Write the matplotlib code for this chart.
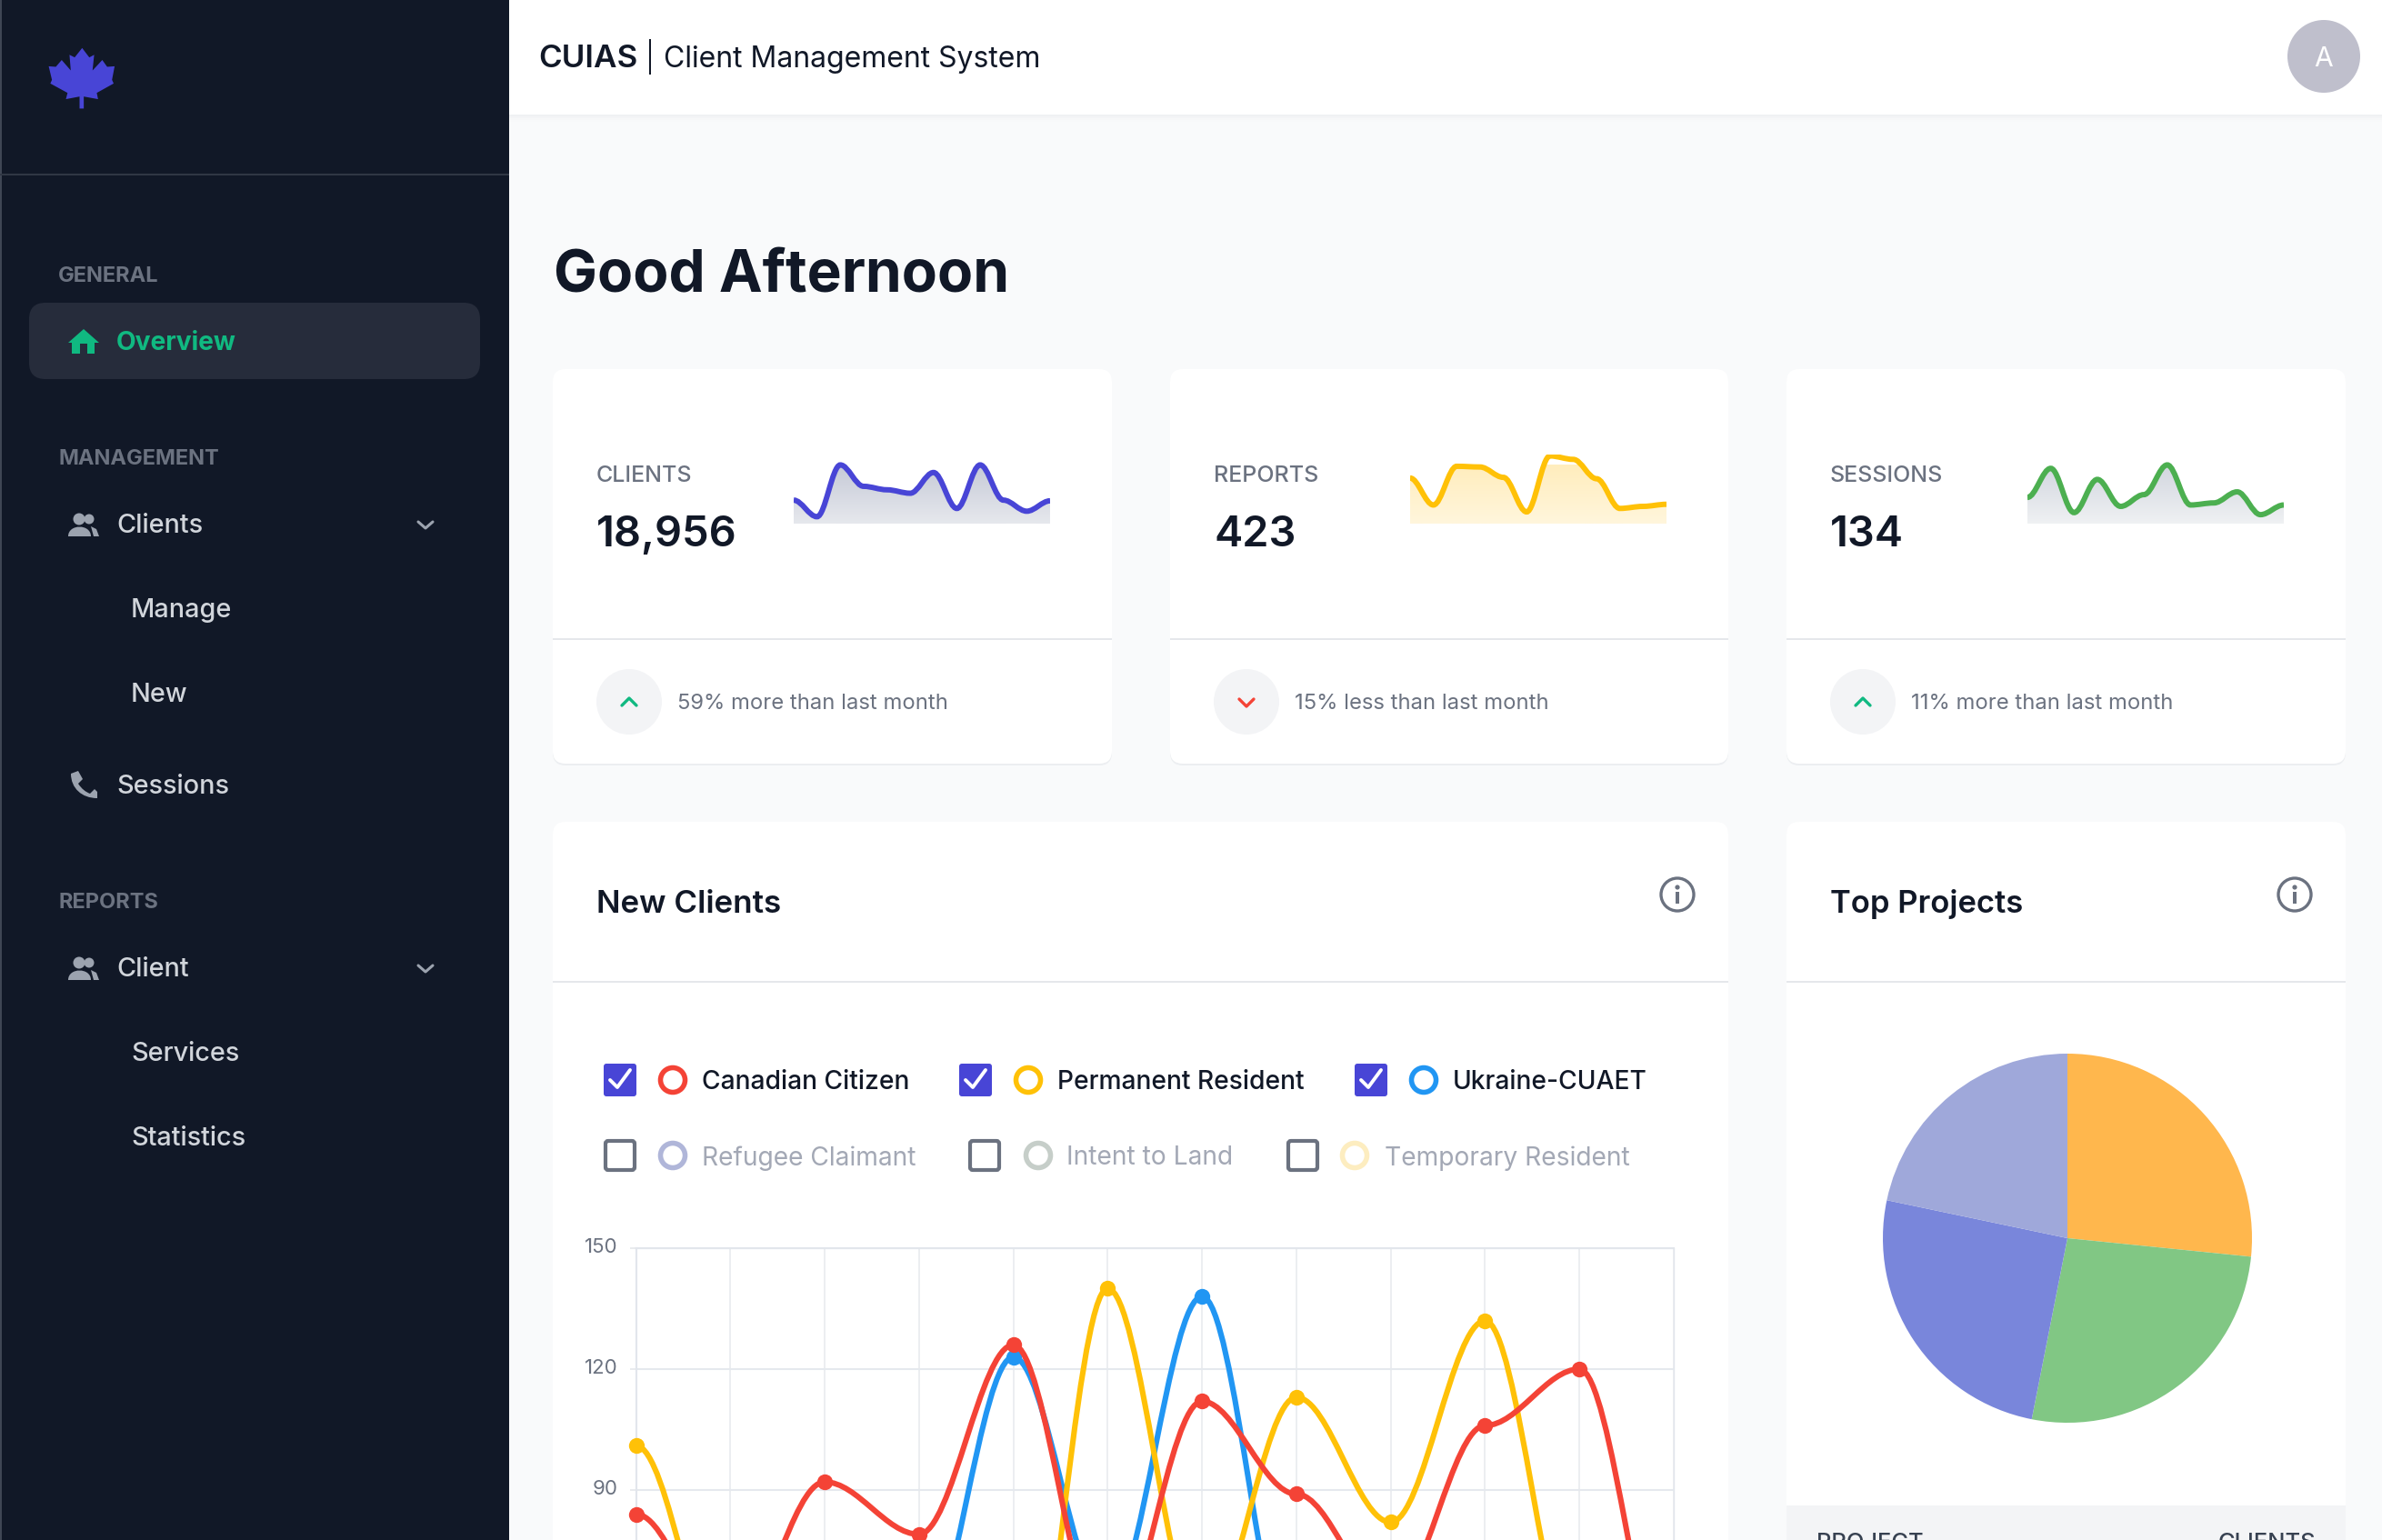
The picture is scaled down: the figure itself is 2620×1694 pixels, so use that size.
import numpy as np
import matplotlib
matplotlib.use('Agg')
import matplotlib.pyplot as plt
from matplotlib.patches import FancyBboxPatch, Rectangle, Circle, Polygon, PathPatch
from matplotlib.path import Path
from matplotlib.transforms import ScaledTranslation

W, H = 2620, 1694
plt.rcParams['font.family'] = ['Inter', 'DejaVu Sans']

# line chart values, months 0-11 (the low ones run off the bottom of the screenshot)
months = list(range(12))
canadian = [84, 54, 92, 79, 126, 52, 112, 89, 63, 106, 120, 40]
permanent = [101, 44, 40, 35, 15, 140, 56, 113, 82, 132, 48, 40]
ukraine = [30, 30, 30, 51, 123, 62, 138, 45, 40, 35, 30, 30]
line_ticks = [90, 120, 150]

# sparklines
spark_clients = [34, 10, 85, 54, 49, 44, 74, 22, 85, 34, 18, 33]
spark_reports = [66, 27, 83, 82, 67, 17, 98, 93, 65, 22, 25, 28]
spark_sessions = [38, 80, 16, 64, 25, 42, 85, 27, 30, 46, 13, 27]

# pie
pie_values = [26.6, 26.5, 25.2, 21.7]
pie_colors = ['#ffb74d', '#81c784', '#7986db', '#9fa8da']

INK = '#111827'
GREY = '#6b7280'
NAV = '#d1d5db'
RED = '#f44336'
YELLOW = '#ffc107'
BLUE = '#2196f3'
GREEN = '#4caf50'
INDIGO = '#4845d6'

fig = plt.figure(figsize=(W / 100, H / 100), dpi=100, facecolor='#f9fafb')
ax = fig.add_axes([0, 0, 1, 1])
ax.set_xlim(0, W)
ax.set_ylim(H, 0)
ax.axis('off')


def px_axes(left, top, right, bottom):
    sub = fig.add_axes([left / W, 1 - bottom / H, (right - left) / W, (bottom - top) / H])
    sub.patch.set_alpha(0)
    return sub


def text(x, y, s, px, color=INK, weight='normal', ha='left', va='center'):
    if va == 'center':
        y += px * 0.1
    return ax.text(x, y, s, fontsize=px * 0.72, color=color, fontweight=weight, ha=ha, va=va)


def rect(x0, y0, x1, y1, color, radius=0, **kw):
    if radius:
        p = FancyBboxPatch((x0, y0), x1 - x0, y1 - y0, boxstyle=f'round,pad=0,rounding_size={radius}',
                           fc=color, ec='none', **kw)
    else:
        p = Rectangle((x0, y0), x1 - x0, y1 - y0, fc=color, ec='none', **kw)
    ax.add_patch(p)


def polyline(points, color, lw):
    xs, ys = zip(*points)
    ax.plot(xs, ys, color=color, lw=lw, solid_capstyle='round', solid_joinstyle='round')


def smooth_path(xs, ys, pull=0.35):
    # flat tangent at every point, like apexcharts' "smooth" curve
    verts = [(xs[0], ys[0])]
    codes = [Path.MOVETO]
    for i in range(1, len(xs)):
        step = (xs[i] - xs[i - 1]) * pull
        verts += [(xs[i - 1] + step, ys[i - 1]), (xs[i] - step, ys[i]), (xs[i], ys[i])]
        codes += [Path.CURVE4] * 3
    return np.array(verts, float), codes


# page frame
rect(0, 0, 560, H, '#111827')
rect(0, 0, 2, H, '#3f4654')
rect(0, 191, 560, 192.6, '#303744')
for i, c in enumerate(['#eff1f3', '#f3f4f6', '#f6f7f8', '#f8f9fa']):
    rect(560, 126 + i * 2, W, 128 + i * 2, c)
rect(560, 0, W, 126, 'white')

# logo
leaf = np.array([(253, 92), (275, 110), (290, 105), (285, 135), (315, 115), (330, 128), (353, 127), (345, 153),
                 (350, 160), (298, 178), (302, 190), (258, 185), (258, 208), (245, 208), (245, 185), (203, 190),
                 (208, 178), (155, 160), (160, 153), (150, 127), (172, 128), (190, 115), (218, 135), (214, 105),
                 (230, 110)]) / [2.8, 1.742]
ax.add_patch(Polygon(leaf, fc=INDIGO, ec='none'))

# sidebar
rect(32, 333, 528, 417, '#262c3b', radius=18)
text(64, 302, 'GENERAL', 23.6, GREY, 'bold')
text(64, 503, 'MANAGEMENT', 23.6, GREY, 'bold')
text(64, 991, 'REPORTS', 23.6, GREY, 'bold')
text(128, 375, 'Overview', 28.2, '#10b981', 'bold')
for x, y, s in [(128, 576, 'Clients'), (144, 669, 'Manage'), (144, 762, 'New'), (128, 863, 'Sessions'),
                (128, 1064, 'Client'), (144, 1157, 'Services'), (144, 1250, 'Statistics')]:
    text(x, y, s, 28.8, NAV, 'medium')

ax.add_patch(Polygon([(92, 362), (109, 377), (104, 377), (104, 389), (96, 389), (96, 378), (88, 378), (88, 389),
                      (79, 389), (79, 377), (75, 377)], fc='#10b981', ec='none'))
for y in [577, 1065]:
    ax.add_patch(Circle((87, y - 6), 6.5, fc='#9ca3af', ec='none'))
    ax.add_patch(Circle((98, y - 6), 5.5, fc='#9ca3af', ec='none'))
    ax.add_patch(PathPatch(Path([(75, y + 13), (75, y - 1), (100, y - 1), (100, y + 13), (75, y + 13)],
                                [Path.MOVETO, Path.CURVE4, Path.CURVE4, Path.CURVE4, Path.CLOSEPOLY]),
                           fc='#9ca3af', ec='none'))
    ax.add_patch(Polygon([(100, y + 2), (106, y + 5), (109, y + 13), (103, y + 13)], fc='#9ca3af', ec='none'))
    polyline([(460, y - 3), (468, y + 4), (476, y - 3)], '#9ca3af', 2.2)
ax.add_patch(PathPatch(Path([(78, 851), (86, 848), (91, 857), (86, 862), (90, 868), (94, 871), (99, 873), (104, 868),
                             (107, 871), (107, 878), (90, 878), (78, 867), (78, 851), (78, 851)],
                            [Path.MOVETO, Path.LINETO, Path.LINETO, Path.LINETO, Path.CURVE4, Path.CURVE4, Path.CURVE4,
                             Path.LINETO, Path.LINETO, Path.LINETO, Path.CURVE4, Path.CURVE4, Path.CURVE4,
                             Path.CLOSEPOLY]), fc='#9ca3af', ec='none'))

# top bar
text(592, 62, 'CUIAS', 35, INK, 'semibold')
rect(714, 43, 716, 82, INK)
text(730, 62, 'Client Management System', 32, INK)
ax.add_patch(Circle((2556, 62), 40, fc='#bfbfcc', ec='none'))
text(2556, 62, 'A', 30, 'white', ha='center')
text(609, 298, 'Good Afternoon', 64, INK, 'bold')


def card(x0, y0, x1, y1):
    rect(x0, y0 + 2, x1, y1 + 2, '#eceef1', radius=14)
    rect(x0, y0, x1, y1, 'white', radius=14)


# stat cards
stats = [(608, 1223, 'CLIENTS', '18,956', '59% more than last month', spark_clients, INDIGO, 873,
          '#c6cad7', '#e6e8ed', True),
         (1287, 1901, 'REPORTS', '423', '15% less than last month', spark_reports, YELLOW, 1551,
          '#ffedbd', '#fff6dc', False),
         (1965, 2580, 'SESSIONS', '134', '11% more than last month', spark_sessions, GREEN, 2230,
          '#d2d6df', '#eff1f3', True)]

for x0, x1, title, number, note, spark, color, sx, top_c, bot_c, up in stats:
    card(x0, 406, x1, 840)
    rect(x0, 702, x1, 704.5, '#e5e7eb')
    text(x0 + 48, 521, title, 25, GREY, 'medium')
    text(x0 + 48, 584, number, 47, INK, 'semibold')
    ax.add_patch(Circle((x0 + 84, 772), 36, fc='#f3f4f6', ec='none'))
    cx = x0 + 84
    if up:
        polyline([(cx - 8, 776), (cx, 768), (cx + 8, 776)], '#10b981', 2.4)
    else:
        polyline([(cx - 8, 769), (cx, 777), (cx + 8, 769)], RED, 2.4)
    text(x0 + 137, 771.5, note, 23.8, GREY)

    sub = px_axes(sx, 500, sx + 282, 576)
    sub.set_xlim(0, 11)
    sub.set_ylim(0, 100)
    sub.axis('off')
    verts, codes = smooth_path(months, spark)
    gradient = np.linspace(0, 1, 64).reshape(-1, 1)
    cmap = matplotlib.colors.LinearSegmentedColormap.from_list('fade', [top_c, bot_c])
    im = sub.imshow(gradient, extent=(0, 11, 0, 85), origin='upper', aspect='auto', cmap=cmap)
    sub.set_xlim(0, 11)
    sub.set_ylim(0, 100)
    fill = Path(np.vstack([verts, [(11, 0), (0, 0), (0, 0)]]),
                list(codes) + [Path.LINETO, Path.LINETO, Path.CLOSEPOLY])
    im.set_clip_path(PathPatch(fill, transform=sub.transData))
    sub.add_patch(PathPatch(Path(verts, codes), fc='none', ec=color, lw=4.3, capstyle='butt', clip_on=True))

# lower cards
card(608, 904, 1901, H + 40)
card(1965, 904, 2580, H + 40)
rect(608, 1079, 1901, 1081.5, '#e5e7eb')
rect(1965, 1079, 2580, 1081.5, '#e5e7eb')
text(656, 991, 'New Clients', 35, INK, 'semibold')
text(2013, 991, 'Top Projects', 34.6, INK, 'semibold')
for cx in [1845, 2524]:
    ax.add_patch(Circle((cx, 984), 18, fc='none', ec=GREY, lw=2.4))
    ax.add_patch(Circle((cx, 976), 2.6, fc=GREY, ec='none'))
    rect(cx - 1.8, 981, cx + 1.8, 994, GREY)

# legend
legend = [(664, 740, 772, 1188, 'Canadian Citizen', RED, True),
          (1055, 1131, 1163, 1188, 'Permanent Resident', YELLOW, True),
          (1490, 1566, 1598, 1188, 'Ukraine-CUAET', BLUE, True),
          (664, 740, 772, 1271, 'Refugee Claimant', '#b0b6d9', False),
          (1065, 1142, 1173, 1271, 'Intent to Land', '#c6cec9', False),
          (1415, 1490, 1523, 1271, 'Temporary Resident', '#fdedc0', False)]
for bx, rx, tx, y, s, color, on in legend:
    if on:
        rect(bx, y - 18, bx + 36, y + 18, INDIGO, radius=3)
        polyline([(bx + 7, y), (bx + 15, y + 8), (bx + 29, y - 11)], 'white', 2.8)
    else:
        ax.add_patch(FancyBboxPatch((bx + 2, y - 16), 32, 32, boxstyle='round,pad=0,rounding_size=3',
                                    fc='white', ec=GREY, lw=3))
    ax.add_patch(Circle((rx, y), 13.5, fc='white', ec=color, lw=4))
    text(tx, y, s, 28.2, INK if on else '#a3a8b5', 'medium' if on else 'normal')

# line chart
line_ax = px_axes(699.5, 1373, 1841, 2038)
line_ax.set_xlim(0, 11)
line_ax.set_ylim(0, 150)
line_ax.set_xticks(months)
line_ax.set_yticks(line_ticks)
line_ax.tick_params(axis='x', length=0, labelbottom=False)
line_ax.tick_params(axis='y', length=5, width=1.2, color='#e5e7eb', labelsize=16, labelcolor=GREY, pad=9)
nudge = ScaledTranslation(0, 3 / 100, fig.dpi_scale_trans)
for lab in line_ax.get_yticklabels():
    lab.set_transform(lab.get_transform() + nudge)
line_ax.grid(axis='x', color='#e9ebef', lw=1.2)
line_ax.grid(axis='y', color='#e5e9ee', lw=1.5)
line_ax.set_axisbelow(True)
for side in ['left', 'top', 'right']:
    line_ax.spines[side].set_color('#e2e6ec')
    line_ax.spines[side].set_linewidth(1.5)
line_ax.spines['right'].set_linewidth(1.0)
line_ax.spines['bottom'].set_visible(False)

for series, color, z in [(ukraine, BLUE, 3), (permanent, YELLOW, 4), (canadian, RED, 5)]:
    verts, codes = smooth_path(months, series)
    line_ax.add_patch(PathPatch(Path(verts, codes), fc='none', ec=color, lw=4.4, zorder=z, clip_on=False))
    line_ax.plot(months, series, ls='none', marker='o', ms=12.5, color=color, mec='none', zorder=z + 0.5, clip_on=False)

# pie
pie_ax = px_axes(2274 - 203, 1362 - 203, 2274 + 203, 1362 + 203)
pie_ax.pie(pie_values, colors=pie_colors, startangle=90, counterclock=False, radius=1)
pie_ax.set_xlim(-1, 1)
pie_ax.set_ylim(-1, 1)

# table header, cut off by the screenshot
rect(1965, 1656, 2580, H, '#f3f4f6')
text(1998, 1686, 'PROJECT', 25.5, '#374151', 'medium', va='top')
text(2547, 1686, 'CLIENTS', 25.5, '#374151', 'medium', ha='right', va='top')

fig.savefig('out.png', dpi=100, facecolor=fig.get_facecolor())
